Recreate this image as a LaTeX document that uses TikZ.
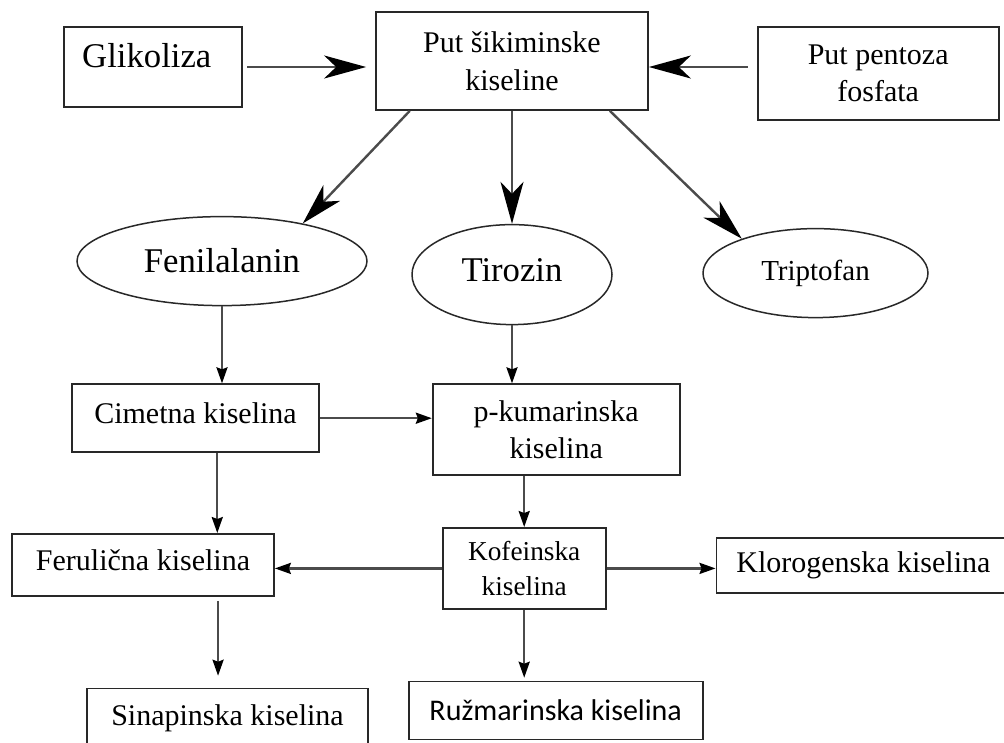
\documentclass[tikz,border=0pt]{standalone}
\usepackage{fontspec}
\setmainfont{Liberation Serif}
\newfontfamily\calfont{Carlito}
\usepackage{tikz}
\usetikzlibrary{arrows.meta,shapes,positioning,calc}
\definecolor{lnblack}{RGB}{40,40,40}
\definecolor{argray}{RGB}{75,75,75}
\newcommand{\bigtxt}{\fontsize{34.7}{42}\selectfont}
\newcommand{\midtxt}{\fontsize{30}{37.5}\selectfont}
\tikzstyle{pathbox} = [rectangle, draw=lnblack, line width=1.7pt, text centered, align=center, font=\midtxt]
\tikzstyle{amino} = [ellipse, draw=lnblack, line width=1.5pt, text centered]
\tikzstyle{arrow} = [line width=2.4pt, color=argray, -{Stealth[length=16pt,width=11pt,inset=2pt,black]}]
\tikzstyle{bigarrow} = [line width=2.4pt, color=argray, -{Stealth[length=42pt,width=23pt,inset=12pt,black]}]

\begin{document}
\begin{tikzpicture}
\useasboundingbox (0,0) rectangle (1004pt,-742pt);
% Izvori
\node[pathbox, minimum width=272pt, minimum height=98pt] (put) at (512pt,-61pt) {Put šikiminske\\kiseline};
\node[pathbox, left=132pt of put, yshift=-6pt, minimum width=178pt, minimum height=80pt, font=\bigtxt, text height=24pt, text depth=24pt] (glik) {\hspace*{-13pt}Glikoliza};
\node[pathbox, right=108pt of put, yshift=-12.5pt, minimum width=241pt, minimum height=93pt] (pent) {Put pentoza\\fosfata};

\draw[bigarrow, shorten <=4pt, shorten >=9pt] (glik.east) -- (glik -| put.west);
\draw[bigarrow, shorten <=9pt] (pent.west |- glik) -- (put.east |- glik);

% Aminokiseline
\node[amino, below=105pt of put, xshift=-290pt, minimum width=290pt, minimum height=89pt, font=\bigtxt] (fen) {Fenilalanin};
\node[amino, below=113pt of put, minimum width=200pt, minimum height=100pt, font=\bigtxt, text height=23pt, text depth=9pt] (tir) {Tirozin};
\node[amino, below=117pt of put, xshift=303.5pt, minimum width=225pt, minimum height=89pt, font={\fontsize{29}{35}\selectfont}] (trip) {Triptofan};

\draw[bigarrow] (put.206) -- (fen.25);
\draw[bigarrow] (put.south) -- (tir.north);
\draw[bigarrow] (put.333) -- (trip.155);

% Kiseline
\node[pathbox, below=77pt of fen, xshift=-26.5pt, minimum width=247pt, minimum height=68pt, text height=22pt, text depth=12pt] (cim) {Cimetna kiselina};
\node[pathbox, right=112pt of cim, yshift=-11.5pt, minimum width=247pt, minimum height=91pt] (pkum) {p-kumarinska\\kiselina};
\node[pathbox, below=51pt of pkum, xshift=-32pt, minimum width=163pt, minimum height=81pt, font={\fontsize{27.3}{35}\selectfont}] (kof) {Kofeinska\\kiselina};
\node[pathbox, left=167pt of kof, yshift=3.5pt, minimum width=262pt, minimum height=62pt, text depth=9pt] (fer) {Ferulična kiselina};
\node[pathbox, right=109pt of kof, yshift=3pt, minimum width=294pt, minimum height=55pt] (klor) {Klorogenska kiselina};
\node[pathbox, below=71pt of kof, xshift=31.5pt, minimum width=294pt, minimum height=58pt, font={\calfont\fontsize{30}{36}\selectfont}] (ruz) {Ružmarinska kiselina};
\node[pathbox, below=91pt of fer, xshift=84.5pt, minimum width=281pt, minimum height=70pt, text depth=18pt] (sin) {Sinapinska kiselina};

\draw[arrow] (fen.south) -- (fen.south |- cim.north);
\draw[arrow] (tir.south) -- (tir.south |- pkum.north);
\draw[arrow] (cim.east) -- (cim.east -| pkum.west);
\draw[arrow] (cim.302) -- (cim.302 |- fer.north);
\draw[arrow] (kof.north |- pkum.south) -- (kof.north);
\draw[arrow] (kof.west) -- (kof.west -| fer.east);
\draw[arrow] (kof.east) -- (kof.east -| klor.west);
\draw[arrow, shorten <=4pt, shorten >=12pt] (fer.337) -- (fer.337 |- sin.north);
\draw[arrow, shorten >=3pt] (kof.south) -- (kof.south |- ruz.north);
\end{tikzpicture}
\end{document}
